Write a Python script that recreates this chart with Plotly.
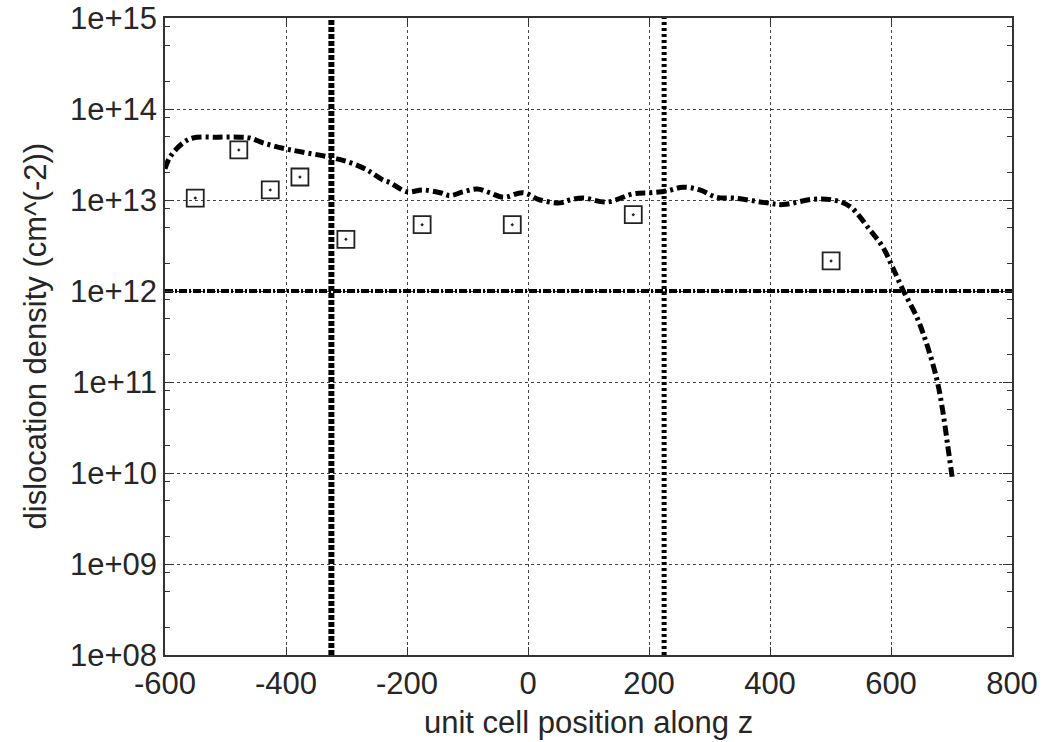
import plotly.graph_objects as go

# ---- data ----
curve_z = [-600, -592, -570, -554, -514, -476, -460, -438, -405, -377, -327, -294,
           -266, -240, -228, -200, -174, -145, -129, -107, -84, -63, -41, -8, 20,
           53, 69, 91, 131, 174, 202, 230, 256, 284, 312, 339, 395, 421, 471, 504,
           532, 565, 587, 603, 620, 643, 660, 676, 686, 694, 701]
curve_rho = [2.2e13, 2.95e13, 4.25e13, 4.8e13, 4.9e13, 4.9e13, 4.8e13, 4.25e13,
             3.7e13, 3.4e13, 2.95e13, 2.57e13, 2.14e13, 1.66e13, 1.55e13, 1.23e13,
             1.29e13, 1.2e13, 1.12e13, 1.23e13, 1.32e13, 1.2e13, 1.07e13, 1.2e13,
             1.0e13, 9.3e12, 1.0e13, 1.05e13, 9.5e12, 1.17e13, 1.2e13, 1.26e13,
             1.38e13, 1.29e13, 1.07e13, 1.05e13, 9.3e12, 8.9e12, 1.02e13, 1.0e13,
             8.5e12, 4.7e12, 3.0e12, 1.8e12, 1.02e12, 5.1e11, 2.5e11, 1.05e11,
             4.6e10, 1.95e10, 9.1e9]

marker_z = [-550, -478, -426, -377, -301, -175, -26, 174, 501]
marker_rho = [1.05e13, 3.55e13, 1.29e13, 1.79e13, 3.7e12, 5.35e12, 5.35e12, 6.9e12, 2.14e12]

threshold_rho = 1e12
boundary_left = -325
boundary_right = 225

x_range = [-600, 800]
y_decades = [8, 9, 10, 11, 12, 13, 14, 15]
y_tickvals = [10.0 ** d for d in y_decades]
y_ticktext = ["1e+%02d" % d for d in y_decades]
x_tickvals = [-600, -400, -200, 0, 200, 400, 600, 800]

minor_vals = [m * 10.0 ** d for d in y_decades[:-1] for m in (2, 5, 8)]

FONT = "Liberation Sans, Arial, sans-serif"
TXT = "#262626"

fig = go.Figure()

# horizontal threshold line
fig.add_trace(go.Scatter(
    x=x_range, y=[threshold_rho, threshold_rho], mode="lines",
    line=dict(color="black", width=4, dash="8px,2px,2px,2px"),
    showlegend=False, hoverinfo="skip"))

# vertical boundary lines
fig.add_trace(go.Scatter(
    x=[boundary_left, boundary_left], y=[1e8, 1e15], mode="lines",
    line=dict(color="black", width=6, dash="5px,2px"),
    showlegend=False, hoverinfo="skip"))
fig.add_trace(go.Scatter(
    x=[boundary_right, boundary_right], y=[1e8, 1e15], mode="lines",
    line=dict(color="black", width=5, dash="3px,3px"),
    showlegend=False, hoverinfo="skip"))

# simulated curve
fig.add_trace(go.Scatter(
    x=curve_z, y=curve_rho, mode="lines", line_shape="spline",
    line=dict(color="black", width=5, dash="10px,4px,3px,4px"),
    showlegend=False))

# measured points
fig.add_trace(go.Scatter(
    x=marker_z, y=marker_rho, mode="markers",
    marker=dict(symbol="square-open-dot", size=17, color="#222222",
                line=dict(width=1.8, color="#222222")),
    showlegend=False))

fig.update_layout(
    width=1047, height=742,
    margin=dict(l=165, r=35, t=18, b=87, autoexpand=False),
    paper_bgcolor="white", plot_bgcolor="white",
    font=dict(family=FONT, color=TXT, size=30),
)

fig.update_xaxes(
    range=x_range, tickvals=x_tickvals, ticktext=[str(v) for v in x_tickvals],
    showline=True, linecolor="#333", linewidth=1.5, mirror="ticks",
    ticks="inside", ticklen=8, tickcolor="#333", automargin=False,
    showgrid=True, gridcolor="#444", griddash="dot", gridwidth=1,
    zeroline=False, tickfont=dict(size=31, family=FONT, color=TXT),
)
fig.update_yaxes(
    type="log", range=[8, 15], tickvals=y_tickvals, ticktext=y_ticktext,
    showline=True, linecolor="#333", linewidth=1.5, mirror="ticks",
    ticks="inside", ticklen=9, tickcolor="#333", automargin=False,
    minor=dict(tickvals=minor_vals, ticks="inside", ticklen=5, tickcolor="#333",
               showgrid=False),
    showgrid=True, gridcolor="#444", griddash="dot", gridwidth=1,
    zeroline=False, tickfont=dict(size=31, family=FONT, color=TXT),
)

fig.add_annotation(
    text="unit cell position along z", xref="paper", yref="paper",
    x=0.5, y=0, yshift=-67, xanchor="center", yanchor="middle",
    showarrow=False, font=dict(size=31, family=FONT, color=TXT))
fig.add_annotation(
    text="dislocation density (cm^(-2))", xref="paper", yref="paper",
    x=0, y=0.5, xshift=-130, xanchor="center", yanchor="middle", textangle=-90,
    showarrow=False, font=dict(size=31, family=FONT, color=TXT))

fig.write_html(
    "out.html",
    config={"displayModeBar": False},
    post_script="document.body.style.margin='0';document.body.style.overflow='hidden';")
